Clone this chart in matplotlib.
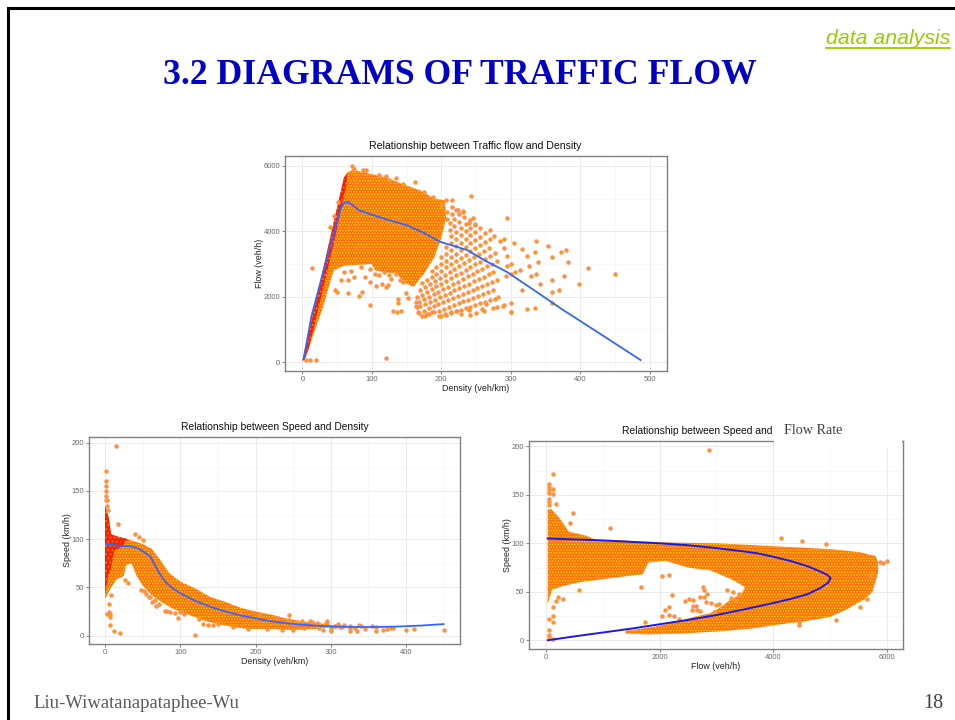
import matplotlib
matplotlib.use('Agg')
import matplotlib.pyplot as plt
from matplotlib.patches import Rectangle
from matplotlib.lines import Line2D
from matplotlib.ticker import MultipleLocator

plt.rcParams['font.family'] = ['Liberation Sans', 'DejaVu Sans']
plt.rcParams['hatch.linewidth'] = 0.6

W, H = 955, 720

# Flow vs density
fd_curve_d = [2, 6, 13, 28, 40, 49, 56, 60, 64, 68, 73, 82, 100, 120, 140, 150, 175, 198, 237, 265, 294, 340, 374, 400, 440, 487]
fd_curve_f = [100, 570, 1390, 2600, 3530, 4240, 4750, 4860, 4900, 4870, 4790, 4640, 4510, 4370, 4250, 4190, 3950, 3684, 3428, 3080, 2765, 2105, 1612, 1256, 708, 60]
fd_cloud_d = [0, 20, 40, 60, 65, 72, 100, 120, 150, 170, 190, 205, 207, 200, 190, 175, 160, 150, 135, 105, 100, 60, 45, 30, 8, 3]
fd_cloud_f = [50, 1900, 3800, 5650, 5800, 5880, 5750, 5650, 5400, 5250, 5000, 4950, 4400, 3800, 3200, 2700, 2300, 2400, 2700, 2800, 3000, 2950, 2800, 1700, 350, 50]
fd_red_d = [0, 20, 40, 60, 65, 63, 46, 26, 9, 3]
fd_red_f = [50, 1900, 3800, 5650, 5800, 5400, 3700, 1900, 400, 50]
fd_rays_d = [
    [200, 207, 214, 221, 228, 235, 242, 249, 256, 263, 270, 277],
    [176, 183, 190, 197, 204, 211, 218, 225, 232, 239, 246, 253, 260, 267, 274],
    [168, 175, 182, 189, 196, 203, 210, 217, 224, 231, 238, 245, 252, 259, 266, 273, 280],
    [170, 177, 184, 191, 198, 205, 212, 219, 226, 233, 240, 247, 254, 261, 268, 275],
    [168, 175, 182, 189, 196, 203, 210, 217, 224, 231, 238, 245, 252, 259, 266, 273, 280],
    [165, 172, 179, 186, 193, 200, 207, 214, 221, 228, 235, 242, 249, 256, 263, 270, 277],
    [170, 177, 184, 191, 198, 205, 212, 219, 226, 233, 240, 247, 254, 261, 268],
    [172, 179, 186, 193, 200, 207, 214, 221, 228, 235, 242, 249, 256, 263, 270, 276],
    [186, 193, 200, 207, 214, 221, 228, 235, 242, 249, 256, 263, 270],
    [200, 207, 214, 221, 228, 235, 242, 249, 256],
    [207, 214, 221, 228, 235, 242, 249],
    [214, 221, 228, 235, 242],
    [212, 219, 226, 233],
    [212, 219, 226, 231],
    [208, 215, 221],
    [208, 215],
    [200, 207],
]
fd_rays_f = [
    [1400, 1449, 1498, 1547, 1596, 1645, 1694, 1743, 1792, 1841, 1890, 1939],
    [1408, 1464, 1520, 1576, 1632, 1688, 1744, 1800, 1856, 1912, 1968, 2024, 2080, 2136, 2192],
    [1512, 1575, 1638, 1701, 1764, 1827, 1890, 1953, 2016, 2079, 2142, 2205, 2268, 2331, 2394, 2457, 2520],
    [1700, 1770, 1840, 1910, 1980, 2050, 2120, 2190, 2260, 2330, 2400, 2470, 2540, 2610, 2680, 2750],
    [1848, 1925, 2002, 2079, 2156, 2233, 2310, 2387, 2464, 2541, 2618, 2695, 2772, 2849, 2926, 3003, 3080],
    [1980, 2064, 2148, 2232, 2316, 2400, 2484, 2568, 2652, 2736, 2820, 2904, 2988, 3072, 3156, 3240, 3324],
    [2210, 2301, 2392, 2483, 2574, 2665, 2756, 2847, 2938, 3029, 3120, 3211, 3302, 3393, 3484],
    [2408, 2506, 2604, 2702, 2800, 2898, 2996, 3094, 3192, 3290, 3388, 3486, 3584, 3682, 3780, 3864],
    [2790, 2895, 3000, 3105, 3210, 3315, 3420, 3525, 3630, 3735, 3840, 3945, 4050],
    [3200, 3312, 3424, 3536, 3648, 3760, 3872, 3984, 4096],
    [3519, 3638, 3757, 3876, 3995, 4114, 4233],
    [3852, 3978, 4104, 4230, 4356],
    [4028, 4161, 4294, 4427],
    [4240, 4380, 4520, 4620],
    [4368, 4515, 4641],
    [4576, 4730],
    [4800, 4968],
]
fd_low_d = [172, 180, 186, 197, 205, 214, 223, 242, 250, 262, 275, 290, 163, 167, 300, 258, 228, 240, 265]
fd_low_f = [1408, 1459, 1520, 1408, 1459, 1520, 1561, 1452, 1510, 1570, 1650, 1740, 1700, 1520, 1520, 1610, 1470, 1600, 1780]
fd_out_d = [450, 411, 399, 382, 380, 373, 376, 369, 359, 359, 359, 353, 337, 335, 339, 337, 342, 329, 326, 323, 316, 304, 316, 313, 306, 300, 293, 300, 294, 294, 290, 291, 285, 295, 243, 324, 335, 300, 300, 289, 280, 360, 282,
            14, 120, 20, 11, 5, 47, 50, 66, 82, 86, 97, 97, 106, 114, 120, 124, 137, 138, 130, 136, 142, 149, 152, 163, 165,
            55, 65, 75, 90, 105, 110, 125, 135, 145, 60, 70, 85, 98, 118, 128, 140,
            72, 75, 88, 92, 110, 120, 125, 135, 145, 162, 175, 188, 216, 224, 232, 245, 248, 240, 52, 45, 40]
fd_out_f = [2694, 2888, 2398, 3051, 3418, 3357, 2633, 2214, 2510, 2143, 3224, 3541, 3714, 3357, 3051, 2694, 2388, 2643, 2939, 3245, 3469, 3653, 2214, 2816, 2765, 2694, 2643, 2990, 2939, 3245, 3480, 3765, 3714, 4408, 5082, 1622, 1663, 1796, 1520, 1724, 1673, 1796, 1980,
            2877, 122, 61, 61, 61, 2214, 2143, 2102, 2030, 2153, 1735, 2459, 2337, 2388, 2306, 2357, 1918, 1796, 1561, 1520, 1561, 2102, 1949, 1847, 1694,
            2500, 2500, 2600, 2600, 2700, 2650, 2650, 2700, 2450, 2750, 2800, 2900, 2850, 2750, 2550, 2500,
            6000, 5900, 5870, 5870, 5720, 5700, 5560, 5620, 5450, 5520, 5200, 5050, 4960, 4650, 4600, 4420, 4180, 4260, 4900, 4480, 4130]

# Speed vs density
sd_curve_d = [2, 10, 20, 35, 45, 55, 60, 65, 72, 80, 90, 100, 120, 140, 160, 180, 200, 220, 240, 260, 280, 300, 330, 360, 390, 420, 450]
sd_curve_s = [95, 94, 93, 92.5, 90, 85, 82, 75, 65, 56, 49, 44, 36, 30, 25, 21, 18, 15, 13, 11.5, 10.5, 9.5, 9, 9, 9.5, 10.5, 12]
sd_cloud_d = [0, 5, 8, 15, 30, 50, 62, 72, 85, 100, 120, 140, 160, 180, 200, 220, 240, 260, 280, 300, 320,
              320, 300, 280, 250, 220, 190, 170, 150, 130, 110, 90, 75, 62, 50, 42, 35, 28, 25, 15, 8, 0]
sd_cloud_s = [135, 122, 105, 103, 100, 95, 90, 80, 65, 56, 49, 40, 35, 29, 25, 22, 18, 15, 13, 11, 10,
              9, 9, 7, 6, 7, 7, 9, 12, 16, 22, 28, 35, 42, 52, 62, 75, 73, 62, 58, 50, 38]
sd_red_d = [0, 5, 8, 15, 30, 22, 12, 8, 4, 0]
sd_red_s = [135, 122, 105, 103, 100, 92, 88, 70, 60, 45]
sd_out_d = [15, 1, 1, 1, 1, 1, 1, 2, 17, 4, 2, 40, 45, 50, 5, 6, 3, 7, 6, 12, 20, 120, 48, 30, 27, 55, 60, 63, 68, 80, 83, 87, 93, 97, 100, 130, 137, 143, 5, 8,
            245, 295, 300, 300, 310, 318, 325, 325, 335, 338, 340, 345, 355, 360, 360, 370, 375, 380, 383, 400, 411, 450, 265, 285, 290,
            325, 315, 305, 295, 285, 275, 255, 245, 230, 205, 180, 160,
            52, 58, 66, 72, 105, 125, 150, 170, 190, 215, 235, 250, 262, 272, 282, 292, 305, 312, 332]
sd_out_s = [196, 171, 160, 155, 150, 145, 141, 141, 116, 130, 134, 105, 102, 99, 25, 22, 22, 19, 11, 5, 3, 1, 47, 55, 58, 43, 40, 35, 31, 26, 26, 25, 24, 18, 25, 12, 11, 11, 33, 42,
            21, 15, 8, 5, 12, 11, 5, 10, 5, 11, 10, 7, 10, 5, 9, 6, 7, 8, 8, 6, 7, 6, 8, 8, 6,
            8, 9, 10, 12, 12, 14, 14, 16, 18, 20, 22, 25,
            46, 40, 37, 33, 22, 17, 12, 9, 7, 7, 6, 6, 15, 15, 13, 12, 10, 9, 8]

# Speed vs flow
sf_curve_f = [30, 500, 1000, 1500, 2000, 2500, 3000, 3500, 3718, 4012, 4306, 4600, 4806, 4953, 5012, 4970, 4835, 4600, 4306, 4012, 3500, 3000, 2500, 2000, 1500, 1000, 500, 30]
sf_curve_s = [105, 104, 103, 101.5, 100, 98, 95, 91.5, 89.7, 86, 81.8, 76.5, 71.5, 67.5, 64, 59.5, 54, 47.4, 42.6, 38.5, 32, 26, 21, 16.5, 12, 8, 4, 0]
sf_cloud_f = [30, 100, 250, 400, 700, 900, 1300, 2000, 3000, 4000, 5000, 5500, 5800, 5850, 5850, 5800, 5750, 5600, 5300, 5000, 4600, 4200, 3600, 3000, 2400, 1800, 1400,
              1400, 1700, 2000, 2300, 2600, 2900, 3100, 3250, 3450, 3500, 3300, 3100, 2900, 2500, 2100, 1800, 1700, 1400, 1000, 600, 300, 100, 30]
sf_cloud_s = [135, 135, 125, 112, 108, 103, 103, 101, 100, 97, 94, 91, 87, 80, 70, 60, 50, 42, 32, 24, 20, 17, 12, 9, 7, 6, 7,
              10, 12, 15, 19, 24, 28, 35, 42, 48, 55, 62, 67, 72, 75, 82, 80, 68, 66, 63, 60, 56, 52, 37]
sf_out_f = [2876, 118, 60, 60, 60, 120, 120, 60, 60, 60, 60, 176, 470, 418, 1135, 4141, 4506, 4929, 6012, 5941, 5882, 5730, 5730, 5659, 5529, 5106, 4453, 4453,
            118, 118, 118, 60, 60, 60, 60, 118, 218, 306, 170, 588, 1676, 2224, 2047, 2159, 1741, 2047, 2100, 2159, 2159, 2247, 2335, 2453, 2524, 2582, 2582, 2640, 2570, 2660, 2720, 2718, 2765, 2780, 2835, 2780, 2825, 2900, 3000, 3050, 2950, 3300, 3180, 3250, 3400, 3320]
sf_out_s = [196, 171, 161, 158, 155, 156, 151, 152, 146, 143, 140, 141, 131, 121, 116, 105, 102, 99, 82, 80, 81, 66, 68, 43, 34, 21, 16, 19,
            34, 25, 19, 22, 11, 5.5, 3, 1.5, 45, 43, 41, 52, 55, 47, 66, 67, 19, 25, 31, 34, 26, 25, 22, 40, 43, 42, 35, 35, 31, 31, 30, 45, 55, 52, 48, 45, 39, 38, 36, 37, 29, 50, 52, 44, 48, 42]

fd_xticks = [0, 100, 200, 300, 400, 500]
fd_yticks = [0, 2000, 4000, 6000]
sd_xticks = [0, 100, 200, 300, 400]
sf_xticks = [0, 2000, 4000, 6000]
s_yticks = [0, 50, 100, 150, 200]


def make_axes(fig, box, xlim, ylim, xticks, yticks, xlabel, ylabel):
    left, top, right, bottom = box
    ax = fig.add_axes([left / W, 1 - bottom / H, (right - left) / W, (bottom - top) / H])
    ax.set_xlim(xlim)
    ax.set_ylim(ylim)
    ax.set_xticks(xticks)
    ax.set_yticks(yticks)
    ax.xaxis.set_minor_locator(MultipleLocator((xticks[1] - xticks[0]) / 2))
    ax.yaxis.set_minor_locator(MultipleLocator((yticks[1] - yticks[0]) / 2))
    ax.grid(True, which='major', color='#ebebeb', lw=0.7)
    ax.grid(True, which='minor', color='#f3f3f3', lw=0.4)
    ax.set_axisbelow(True)
    ax.tick_params(which='major', labelsize=5.5, labelcolor='#6a6a6a', color='#555555', length=2, width=0.5, pad=1.5)
    ax.tick_params(which='minor', length=0)
    for s in ax.spines.values():
        s.set_color('#808080')
        s.set_linewidth(1.0)
    ax.set_xlabel(xlabel, fontsize=6.4, color='#222222', labelpad=0.5)
    ax.set_ylabel(ylabel, fontsize=6.4, color='#222222', labelpad=0)
    return ax


def draw_cloud(ax, x, y, red_x=None, red_y=None):
    ax.fill(x, y, facecolor='#ff7410', edgecolor='#ffdd00', hatch='......', lw=0, zorder=2)
    if red_x is not None:
        ax.fill(red_x, red_y, facecolor='#f5200a', edgecolor='#ff9000', hatch='....', lw=0, zorder=2.5)


def draw_points(ax, x, y):
    ax.scatter(x, y, s=7, c='#ff9a00', edgecolors='#ff8a80', linewidths=0.5, zorder=3)


def main():
    fig = plt.figure(figsize=(W / 100, H / 100), dpi=100)
    fig.patch.set_facecolor('white')

    ax1 = make_axes(fig, (285, 156, 667, 371), (-25, 525), (-275, 6305), fd_xticks, fd_yticks,
                    'Density (veh/km)', 'Flow (veh/h)')
    draw_cloud(ax1, fd_cloud_d, fd_cloud_f, fd_red_d, fd_red_f)
    for d, f in zip(fd_rays_d, fd_rays_f):
        draw_points(ax1, d, f)
    draw_points(ax1, fd_low_d, fd_low_f)
    draw_points(ax1, fd_out_d, fd_out_f)
    ax1.plot(fd_curve_d, fd_curve_f, color='#3366ff', lw=1.3, zorder=4)

    ax2 = make_axes(fig, (89, 437, 460, 644), (-21.3, 471.8), (-8.6, 205.8), sd_xticks, s_yticks,
                    'Density (veh/km)', 'Speed (km/h)')
    draw_cloud(ax2, sd_cloud_d, sd_cloud_s, sd_red_d, sd_red_s)
    draw_points(ax2, sd_out_d, sd_out_s)
    ax2.plot(sd_curve_d, sd_curve_s, color='#3366ff', lw=1.3, zorder=4)

    ax3 = make_axes(fig, (529, 441, 903, 649), (-300, 6287), (-9, 205.5), sf_xticks, s_yticks,
                    'Flow (veh/h)', 'Speed (km/h)')
    draw_cloud(ax3, sf_cloud_f, sf_cloud_s)
    draw_points(ax3, sf_out_f, sf_out_s)
    ax3.plot(sf_curve_f, sf_curve_s, color='#1a1ae6', lw=1.4, zorder=4)

    # chart titles
    fig.text(475.5 / W, 1 - 146 / H, 'Relationship between Traffic flow and Density', fontsize=7.6, color='#111111', ha='center', va='center')
    fig.text(274.5 / W, 1 - 427 / H, 'Relationship between Speed and Density', fontsize=7.4, color='#111111', ha='center', va='center')
    fig.text(622 / W, 1 - 431 / H, 'Relationship between Speed and', fontsize=7.4, color='#111111', va='center')

    # white patch pasted over the end of the third title
    fig.add_artist(Rectangle((774 / W, 1 - 448 / H), (902 - 774) / W, 30 / H, transform=fig.transFigure,
                             facecolor='white', edgecolor='none', zorder=5))
    fig.text(784 / W, 1 - 431 / H, 'Flow Rate', fontsize=10.2, family=['Liberation Serif'], color='#404040',
             va='center', zorder=6)

    # slide frame, title and footer
    fig.add_artist(Line2D([7.5 / W, 7.5 / W, 1], [0, 1 - 8 / H, 1 - 8 / H], color='black', lw=2.2,
                          transform=fig.transFigure, solid_joinstyle='miter'))
    fig.text(460 / W, 1 - 76 / H, '3.2 DIAGRAMS OF TRAFFIC FLOW', fontsize=25.7, fontweight='bold',
             family=['Liberation Serif'], color='#0000c8', ha='center', va='center')
    fig.text(950 / W, 1 - 38 / H, 'data analysis', fontsize=15.3, style='italic', color='#99cc00', ha='right', va='center')
    fig.add_artist(Line2D([826 / W, 950 / W], [1 - 48 / H, 1 - 48 / H], color='#99cc00', lw=1.3,
                          transform=fig.transFigure))
    fig.text(33 / W, 1 - 704 / H, 'Liu-Wiwatanapataphee-Wu', fontsize=13.4, family=['Liberation Serif'],
             color='#595959', va='center')
    fig.text(943 / W, 1 - 703 / H, '18', fontsize=14.5, family=['Liberation Serif'], color='#404040',
             ha='right', va='center')

    fig.savefig('out.png', dpi=100)


if __name__ == '__main__':
    main()
